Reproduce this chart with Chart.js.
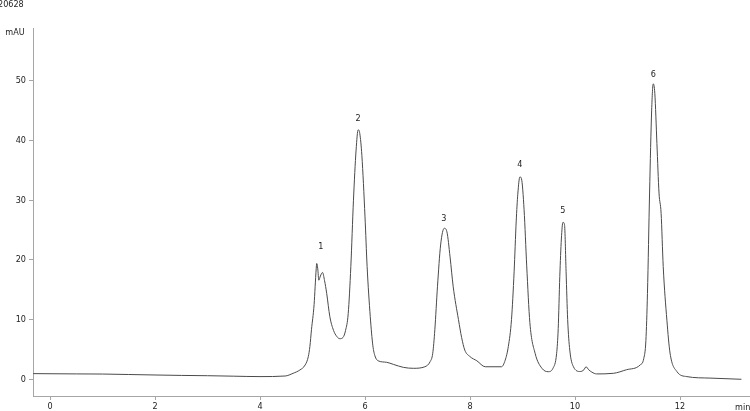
<!DOCTYPE html>
<html>
<head>
<meta charset="utf-8">
<script src="https://cdn.jsdelivr.net/npm/chart.js@4/dist/chart.umd.min.js"></script>
<style>
html,body{margin:0;padding:0;background:#fff;overflow:hidden;}
#wrap{width:750px;height:411px;position:relative;}
</style>
</head>
<body>
<div id="wrap"><canvas id="c" width="750" height="411"></canvas></div>
<script>
// ---- data ----
const timesMin = [-0.32, 0, 0.5, 1, 1.5, 2, 2.5, 3, 3.5, 4, 4.48, 4.63, 4.76, 4.86, 4.92, 4.95, 4.98, 5.03, 5.05, 5.07, 5.08, 5.10, 5.12, 5.15, 5.19, 5.23, 5.27, 5.33, 5.40, 5.46, 5.52, 5.58, 5.63, 5.68, 5.73, 5.78, 5.83, 5.87, 5.90, 5.94, 6.0, 6.04, 6.10, 6.15, 6.19, 6.25, 6.41, 6.54, 6.73, 6.92, 7.14, 7.24, 7.29, 7.33, 7.38, 7.44, 7.51, 7.56, 7.62, 7.68, 7.78, 7.84, 7.90, 8.0, 8.13, 8.29, 8.60, 8.67, 8.73, 8.79, 8.84, 8.88, 8.91, 8.95, 8.98, 9.03, 9.08, 9.14, 9.24, 9.37, 9.49, 9.58, 9.65, 9.68, 9.71, 9.74, 9.77, 9.80, 9.83, 9.86, 9.90, 9.97, 10.10, 10.17, 10.21, 10.26, 10.32, 10.41, 10.73, 10.98, 11.24, 11.31, 11.35, 11.38, 11.42, 11.46, 11.49, 11.52, 11.56, 11.60, 11.64, 11.68, 11.75, 11.81, 11.94, 12.13, 12.57, 13.17];
const absorbance = [0.95, 0.93, 0.9, 0.88, 0.8, 0.72, 0.65, 0.6, 0.52, 0.45, 0.55, 1.0, 1.56, 2.4, 3.8, 5.5, 8.3, 12.5, 15.5, 18.5, 19.4, 18.5, 16.6, 17.3, 17.9, 16.5, 14.4, 10.5, 8.2, 7.2, 6.8, 7.0, 8.2, 11.0, 18.9, 30.0, 38.4, 41.8, 41.2, 37.5, 27.2, 18.9, 10.5, 5.6, 3.9, 3.1, 2.85, 2.5, 2.0, 1.84, 2.1, 2.95, 4.35, 8.3, 15.5, 22.5, 25.3, 24.7, 20.5, 15.5, 10.0, 7.0, 4.9, 3.8, 3.1, 2.1, 2.1, 3.2, 5.5, 10.0, 18.0, 26.5, 31.0, 33.9, 33.6, 28.4, 19.0, 9.5, 4.35, 1.84, 1.27, 1.84, 4.35, 8.5, 17.2, 23.5, 26.3, 25.9, 18.0, 10.0, 4.9, 2.1, 1.3, 1.6, 2.1, 1.6, 1.2, 0.9, 1.0, 1.6, 2.4, 3.5, 6.5, 14.4, 31.2, 45.1, 49.5, 47.9, 39.5, 31.2, 27.8, 18.9, 9.9, 4.4, 1.3, 0.45, 0.2, 0.0];

const peakNames = ['1', '2', '3', '4', '5', '6'];
const peakTimes = [5.16, 5.87, 7.50, 8.95, 9.77, 11.49];
const peakLabelLevels = [22.2, 43.6, 26.9, 35.9, 28.2, 51.1];

const xTickValues = [0, 2, 4, 6, 8, 10, 12];
const yTickValues = [0, 10, 20, 30, 40, 50];

const sampleTitle = '20628';
const yUnit = 'mAU';
const xUnit = 'min';

// ---- chart ----
const FONT = '"DejaVu Sans Condensed", "Liberation Sans", sans-serif';
const TEXT = '#222';
const AXIS = '#a6a6a6';

const points = timesMin.map((t, i) => ({x: t, y: absorbance[i]}));

const textPlugin = {
  id: 'chromText',
  afterDraw(chart) {
    const ctx = chart.ctx;
    const xs = chart.scales.x, ys = chart.scales.y;
    ctx.save();
    ctx.fillStyle = TEXT;
    ctx.font = '9px ' + FONT;
    ctx.textAlign = 'center';
    ctx.textBaseline = 'middle';
    peakNames.forEach((n, i) => {
      ctx.fillText(n, xs.getPixelForValue(peakTimes[i]), ys.getPixelForValue(peakLabelLevels[i]));
    });
    ctx.textAlign = 'left';
    ctx.fillText(sampleTitle, -2, 5);
    ctx.textAlign = 'center';
    ctx.fillText(yUnit, 15, 33);
    ctx.textAlign = 'left';
    ctx.fillText(xUnit, 735, 408);
    ctx.restore();
  }
};

new Chart(document.getElementById('c'), {
  type: 'line',
  data: {
    datasets: [{
      data: points,
      borderColor: '#4a4a4a',
      borderWidth: 1,
      pointRadius: 0,
      fill: false,
      cubicInterpolationMode: 'monotone'
    }]
  },
  options: {
    responsive: false,
    animation: false,
    events: [],
    layout: {padding: {top: 28, right: 0, left: 0, bottom: 0}},
    plugins: {legend: {display: false}, tooltip: {enabled: false}, title: {display: false}},
    scales: {
      x: {
        type: 'linear',
        min: -0.324,
        max: 13.333,
        offset: false,
        afterBuildTicks(axis) { axis.ticks = xTickValues.map(v => ({value: v})); },
        afterFit(scale) { scale.height = 15; },
        grid: {display: true, drawOnChartArea: false, drawTicks: true, tickLength: 4, color: AXIS},
        border: {display: true, color: AXIS, width: 1},
        ticks: {color: TEXT, font: {family: FONT, size: 9}, padding: 1, maxRotation: 0, autoSkip: false}
      },
      y: {
        type: 'linear',
        min: -2.80,
        max: 58.85,
        afterBuildTicks(axis) { axis.ticks = yTickValues.map(v => ({value: v})); },
        afterFit(scale) { scale.width = 33; },
        grid: {display: true, drawOnChartArea: false, drawTicks: true, tickLength: 4, color: AXIS},
        border: {display: true, color: AXIS, width: 1},
        ticks: {color: TEXT, font: {family: FONT, size: 9}, padding: 3}
      }
    }
  },
  plugins: [textPlugin]
});
</script>
</body>
</html>
